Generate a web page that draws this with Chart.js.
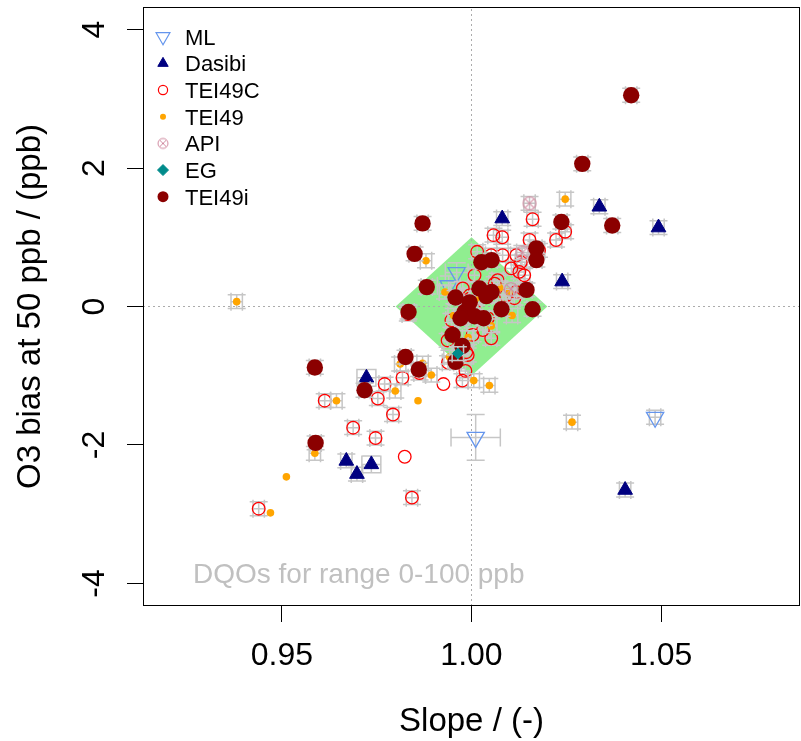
<!DOCTYPE html>
<html>
<head>
<meta charset="utf-8">
<script src="https://cdn.jsdelivr.net/npm/chart.js@4.4.1/dist/chart.umd.min.js"></script>
<style>
html,body{margin:0;padding:0;background:#ffffff;}
canvas{display:block;}
</style>
</head>
<body>
<canvas id="c" width="801" height="741" style="width:801px;height:741px"></canvas>
<script>
// ---------------- data ----------------
const seriesNames = ['ML', 'Dasibi', 'TEI49C', 'TEI49', 'API', 'EG', 'TEI49i'];
const xTickValues = [0.95, 1.00, 1.05];
const xTickLabels = ['0.95', '1.00', '1.05'];
const yTickValues = [-4, -2, 0, 2, 4];
const yTickLabels = ['-4', '-2', '0', '2', '4'];
const xTitle = 'Slope / (-)';
const yTitle = 'O3 bias at 50 ppb / (ppb)';
const dqoLabel = 'DQOs for range 0-100 ppb';
// DQO diamond (slope, bias)
const dqoSlope = [0.98, 1.00, 1.02, 1.00, 0.98];
const dqoBias  = [0.00, 1.00, 0.00, -1.00, 0.00];

// [slope, bias at 50 ppb, slope uncertainty, bias uncertainty]
const mlData = [
  [1.0011, -1.89, 0.0065, 0.33],
  [1.0484, -1.60, 0.0015, 0.10],
  [0.9961,  0.49, 0.0030, 0.14],
  [0.9940,  0.30, 0.0030, 0.14]
];
const dasibiData = [
  [1.0081,  1.27, 0.0015, 0.10],
  [1.0337,  1.44, 0.0015, 0.10],
  [1.0493,  1.14, 0.0015, 0.10],
  [1.0239,  0.36, 0.0015, 0.10],
  [0.9723, -1.03, 0.0025, 0.12],
  [0.9670, -2.23, 0.0015, 0.10],
  [0.9736, -2.28, 0.0025, 0.12],
  [0.9698, -2.42, 0.0015, 0.10],
  [1.0405, -2.65, 0.0015, 0.10]
];
const tei49cData = [
  [0.9613, -1.36, 0.0015, 0.10],
  [0.9771, -1.12, 0.0015, 0.10],
  [0.9753, -1.33, 0.0015, 0.10],
  [0.9793, -1.56, 0.0015, 0.10],
  [0.9688, -1.75, 0.0015, 0.10],
  [0.9747, -1.90, 0.0015, 0.10],
  [0.9824, -2.17, 0, 0],
  [0.9843, -2.76, 0.0015, 0.10],
  [0.9439, -2.92, 0.0015, 0.10],
  [0.9818, -1.03, 0.0015, 0.10],
  [0.9926, -1.12, 0, 0],
  [0.9976, -1.07, 0.0015, 0.10],
  [0.9984, -0.93, 0.0015, 0.10],
  [0.9938, -0.81, 0.0015, 0.10],
  [0.9863, -0.96, 0.0015, 0.10],
  [0.9990, -0.70, 0.0015, 0.10],
  [1.0003, -0.41, 0.0015, 0.10],
  [1.0052, -0.46, 0.0015, 0.10],
  [0.9986, -0.66, 0.0015, 0.10],
  [1.0161,  1.26, 0.0015, 0.10],
  [1.0223,  0.96, 0.0015, 0.10],
  [1.0247,  1.08, 0.0015, 0.10],
  [1.0058,  1.03, 0.0015, 0.10],
  [1.0081,  1.00, 0.0015, 0.10],
  [1.0015,  0.79, 0.0015, 0.10],
  [1.0052,  0.74, 0.0015, 0.10],
  [1.0082,  0.74, 0.0015, 0.10],
  [1.0118,  0.74, 0.0015, 0.10],
  [1.0130,  0.64, 0.0015, 0.10],
  [1.0178,  0.81, 0.0015, 0.10],
  [1.0105,  0.55, 0.0015, 0.10],
  [1.0126,  0.50, 0.0015, 0.10],
  [1.0139,  0.45, 0.0015, 0.10],
  [1.0069,  0.38, 0.0015, 0.10],
  [1.0008,  0.45, 0.0015, 0.10],
  [0.9977,  0.26, 0.0015, 0.10],
  [0.9995,  0.16, 0.0015, 0.10],
  [1.0061,  0.33, 0.0015, 0.10],
  [1.0091,  0.16, 0.0015, 0.10],
  [1.0113,  0.12, 0.0015, 0.10],
  [1.0117,  0.21, 0.0015, 0.10],
  [0.9955,  0.14, 0.0015, 0.10],
  [0.9999,  0.07, 0.0015, 0.10],
  [1.0008, -0.05, 0.0015, 0.10],
  [0.9947, -0.20, 0.0015, 0.10],
  [1.0043, -0.17, 0.0015, 0.10],
  [1.0030, -0.34, 0.0015, 0.10],
  [0.9937, -0.49, 0.0015, 0.10],
  [0.9832, -0.11, 0.0015, 0.10],
  [1.0153,  0.96, 0.0015, 0.10]
];
const tei49Data = [
  [0.9381,  0.07, 0.0015, 0.10],
  [1.0247,  1.55, 0.0015, 0.10],
  [1.0265, -1.67, 0.0015, 0.10],
  [0.9880,  0.66, 0.0015, 0.10],
  [0.9930,  0.21, 0.0015, 0.10],
  [1.0107, -0.13, 0.0015, 0.10],
  [1.0052, -0.28, 0.0015, 0.10],
  [0.9991, -0.45, 0.0015, 0.10],
  [1.0074,  0.27, 0.0015, 0.10],
  [0.9953, -0.13, 0.0015, 0.10],
  [1.0012,  0.12, 0.0015, 0.10],
  [1.0098,  0.21, 0.0015, 0.10],
  [0.9894, -0.99, 0.0015, 0.10],
  [1.0006, -1.07, 0.0015, 0.10],
  [1.0047, -1.14, 0.0015, 0.10],
  [0.9812, -0.83, 0.0015, 0.10],
  [0.9871, -0.82, 0.0015, 0.10],
  [0.9942, -0.73, 0.0015, 0.10],
  [0.9644, -1.36, 0.0015, 0.10],
  [0.9799, -1.22, 0.0015, 0.10],
  [0.9859, -1.36, 0, 0],
  [0.9587, -2.12, 0.0015, 0.10],
  [0.9512, -2.46, 0, 0],
  [0.9470, -2.98, 0, 0]
];
const apiData = [
  [1.0153,  1.49, 0.0015, 0.10],
  [1.0134,  0.78, 0.0015, 0.10],
  [1.0104,  0.25, 0.0015, 0.10]
];
const egData = [
  [0.9964, -0.68, 0.0015, 0.10]
];
const tei49iData = [
  [1.0421,  3.05, 0.0015, 0.10],
  [1.0292,  2.06, 0.0015, 0.10],
  [1.0371,  1.17, 0.0015, 0.10],
  [1.0237,  1.22, 0.0015, 0.10],
  [0.9871,  1.20, 0.0015, 0.10],
  [0.9850,  0.76, 0.0015, 0.10],
  [0.9882,  0.28, 0.0015, 0.10],
  [0.9834, -0.08, 0.0015, 0.10],
  [1.0171,  0.84, 0.0015, 0.10],
  [1.0171,  0.67, 0.0015, 0.10],
  [1.0145,  0.24, 0.0015, 0.10],
  [1.0161, -0.04, 0.0015, 0.10],
  [1.0079, -0.04, 0.0015, 0.10],
  [1.0026,  0.64, 0.0015, 0.10],
  [1.0053,  0.67, 0.0015, 0.10],
  [1.0053,  0.21, 0.0015, 0.10],
  [1.0021,  0.26, 0.0015, 0.10],
  [0.9958,  0.13, 0.0015, 0.10],
  [0.9982, -0.08, 0.0015, 0.10],
  [1.0008, -0.14, 0.0015, 0.10],
  [0.9950, -0.41, 0.0015, 0.10],
  [0.9976, -0.57, 0.0015, 0.10],
  [0.9958, -0.80, 0.0015, 0.10],
  [0.9826, -0.73, 0.0015, 0.10],
  [0.9861, -0.91, 0.0015, 0.10],
  [0.9587, -0.88, 0.0015, 0.10],
  [0.9718, -1.21, 0.0015, 0.10],
  [0.9589, -1.97, 0.0015, 0.10],
  [1.0039,  0.15, 0.0015, 0.10],
  [0.9995,  0.06, 0.0015, 0.10],
  [1.0032, -0.17, 0.0015, 0.10],
  [0.9971, -0.17, 0.0015, 0.10]
];

// ---------------- rendering ----------------
const FONT = "'Liberation Sans', Arial, Helvetica, sans-serif";
const X_MIN = 0.9134, X_MAX = 1.0866, Y_MIN = -4.325, Y_MAX = 4.325;

function makeApiIcon(r, color, lw) {
  const s = Math.ceil(2 * r + 2 * lw + 2);
  const c = document.createElement('canvas');
  c.width = s; c.height = s;
  const g = c.getContext('2d');
  const m = s / 2, d = r * Math.SQRT1_2;
  g.strokeStyle = color; g.lineWidth = lw;
  g.beginPath(); g.arc(m, m, r, 0, Math.PI * 2); g.stroke();
  g.beginPath();
  g.moveTo(m - d, m - d); g.lineTo(m + d, m + d);
  g.moveTo(m - d, m + d); g.lineTo(m + d, m - d);
  g.stroke();
  return c;
}
const apiIcon = makeApiIcon(6.5, '#D08AA0', 1.1);
const apiIconLegend = makeApiIcon(5, '#D08AA0', 1);

const toPts = arr => arr.map(p => ({x: p[0], y: p[1]}));
const toErr = arr => arr.map(p => [p[2], p[3]]);

const seriesStyle = [
  {data: mlData, pointStyle: 'triangle', rotation: 180, radius: 10, bg: 'rgba(0,0,0,0)', border: '#6495ED', bw: 1.3, order: 7},
  {data: dasibiData, pointStyle: 'triangle', rotation: 0, radius: 8.5, bg: '#000080', border: '#000080', bw: 1, order: 6},
  {data: tei49cData, pointStyle: 'circle', rotation: 0, radius: 6.3, bg: 'rgba(0,0,0,0)', border: '#FF0000', bw: 1.3, order: 5},
  {data: tei49Data, pointStyle: 'circle', rotation: 0, radius: 3.8, bg: '#FFA500', border: '#FFA500', bw: 0, order: 4},
  {data: apiData, pointStyle: apiIcon, rotation: 0, radius: 7, bg: 'rgba(0,0,0,0)', border: '#D08AA0', bw: 1, order: 3},
  {data: egData, pointStyle: 'rectRot', rotation: 0, radius: 5.5, bg: '#008B8B', border: '#008B8B', bw: 1, order: 0},
  {data: tei49iData, pointStyle: 'circle', rotation: 0, radius: 8.2, bg: '#8B0000', border: '#8B0000', bw: 0, order: 1}
];

const legendStyle = [
  {pointStyle: 'triangle', rotation: 180, radius: 8, bg: 'rgba(0,0,0,0)', border: '#6495ED', bw: 1.2},
  {pointStyle: 'triangle', rotation: 0, radius: 6, bg: '#000080', border: '#000080', bw: 1},
  {pointStyle: 'circle', rotation: 0, radius: 4.6, bg: 'rgba(0,0,0,0)', border: '#FF0000', bw: 1.2},
  {pointStyle: 'circle', rotation: 0, radius: 3, bg: '#FFA500', border: '#FFA500', bw: 0},
  {pointStyle: apiIconLegend, rotation: 0, radius: 5, bg: 'rgba(0,0,0,0)', border: '#D08AA0', bw: 1},
  {pointStyle: 'rectRot', rotation: 0, radius: 5.5, bg: '#008B8B', border: '#008B8B', bw: 1},
  {pointStyle: 'circle', rotation: 0, radius: 5.5, bg: '#8B0000', border: '#8B0000', bw: 0}
];

const datasets = [];
// DQO area
datasets.push({
  label: 'DQO', data: dqoSlope.map((s, i) => ({x: s, y: dqoBias[i]})),
  showLine: true, fill: 'shape', backgroundColor: '#90EE90', borderColor: '#90EE90',
  borderWidth: 0, pointRadius: 0, order: 20, tension: 0
});
// reference lines
datasets.push({
  label: 'v', data: [{x: 1, y: Y_MIN}, {x: 1, y: Y_MAX}], showLine: true,
  borderColor: '#ababab', borderWidth: 1, borderDash: [2, 3], pointRadius: 0, order: 15
});
datasets.push({
  label: 'h', data: [{x: X_MIN, y: 0}, {x: X_MAX, y: 0}], showLine: true,
  borderColor: '#ababab', borderWidth: 1, borderDash: [2, 3], pointRadius: 0, order: 15
});
seriesStyle.forEach((s, i) => {
  datasets.push({
    label: seriesNames[i], data: toPts(s.data), errors: toErr(s.data),
    pointStyle: s.pointStyle, rotation: s.rotation, pointRadius: s.radius,
    backgroundColor: s.bg, borderColor: s.border, borderWidth: s.bw, order: s.order,
    showLine: false
  });
});

const errorBarPlugin = {
  id: 'errorBars',
  beforeDatasetDraw(chart, args) {
    const ds = chart.data.datasets[args.index];
    if (!ds.errors) return;
    const xs = chart.scales.x, ys = chart.scales.y, ctx = chart.ctx, a = chart.chartArea;
    const cap = 9;
    ctx.save();
    ctx.beginPath(); ctx.rect(a.left, a.top, a.right - a.left, a.bottom - a.top); ctx.clip();
    ctx.strokeStyle = '#c6c6c6';
    ctx.lineWidth = 1.5;
    ds.data.forEach((p, i) => {
      const ex = ds.errors[i][0], ey = ds.errors[i][1];
      const px = xs.getPixelForValue(p.x), py = ys.getPixelForValue(p.y);
      ctx.beginPath();
      if (ex) {
        const x1 = xs.getPixelForValue(p.x - ex), x2 = xs.getPixelForValue(p.x + ex);
        ctx.moveTo(x1, py); ctx.lineTo(x2, py);
        ctx.moveTo(x1, py - cap); ctx.lineTo(x1, py + cap);
        ctx.moveTo(x2, py - cap); ctx.lineTo(x2, py + cap);
      }
      if (ey) {
        const y1 = ys.getPixelForValue(p.y - ey), y2 = ys.getPixelForValue(p.y + ey);
        ctx.moveTo(px, y1); ctx.lineTo(px, y2);
        ctx.moveTo(px - cap, y1); ctx.lineTo(px + cap, y1);
        ctx.moveTo(px - cap, y2); ctx.lineTo(px + cap, y2);
      }
      ctx.stroke();
    });
    ctx.restore();
  }
};

const decorPlugin = {
  id: 'decor',
  afterDraw(chart) {
    const ctx = chart.ctx, a = chart.chartArea;
    ctx.save();
    // plot box
    ctx.strokeStyle = '#000000';
    ctx.lineWidth = 1;
    ctx.strokeRect(a.left + 0.5, a.top + 0.5, a.right - a.left - 1, a.bottom - a.top - 1);
    // DQO label
    ctx.fillStyle = '#c0c0c0';
    ctx.font = '28px ' + FONT;
    ctx.textAlign = 'left';
    ctx.textBaseline = 'alphabetic';
    ctx.fillText(dqoLabel, 193, 583);
    // legend
    const lx = 163, tx = 185, y0 = 36.7, dy = 26.67;
    ctx.font = '22px ' + FONT;
    seriesNames.forEach((name, i) => {
      const s = legendStyle[i];
      const y = y0 + i * dy;
      ctx.save();
      ctx.fillStyle = s.bg; ctx.strokeStyle = s.border; ctx.lineWidth = s.bw;
      Chart.helpers.drawPoint(ctx, {pointStyle: s.pointStyle, rotation: s.rotation, radius: s.radius, borderWidth: s.bw}, lx, y);
      ctx.restore();
      ctx.fillStyle = '#000000';
      ctx.fillText(name, tx, y + 7.8);
    });
    ctx.restore();
  }
};

function zeroPadding(s) {
  s.paddingTop = 0; s.paddingBottom = 0; s.paddingLeft = 0; s.paddingRight = 0;
}

new Chart(document.getElementById('c'), {
  type: 'scatter',
  data: {datasets},
  plugins: [errorBarPlugin, decorPlugin],
  options: {
    responsive: false,
    devicePixelRatio: 1,
    animation: false,
    events: [],
    layout: {autoPadding: false, padding: {top: 7, right: 1, bottom: 0, left: 0}},
    plugins: {legend: {display: false}, tooltip: {enabled: false}},
    scales: {
      x: {
        type: 'linear', min: X_MIN, max: X_MAX,
        afterBuildTicks: s => { s.ticks = xTickValues.map(v => ({value: v})); },
        afterFit: s => { s.height = 135; zeroPadding(s); },
        border: {display: false},
        grid: {drawOnChartArea: false, drawTicks: true, tickLength: 16, color: '#000000', lineWidth: 1},
        ticks: {
          autoSkip: false, maxRotation: 0, minRotation: 0, padding: 15, color: '#000000',
          font: {family: FONT, size: 32},
          callback: v => xTickLabels[xTickValues.indexOf(v)]
        },
        title: {display: true, text: xTitle, color: '#000000', font: {family: FONT, size: 33, lineHeight: 1}, padding: {top: 0, bottom: 3}}
      },
      y: {
        type: 'linear', min: Y_MIN, max: Y_MAX,
        afterBuildTicks: s => { s.ticks = yTickValues.map(v => ({value: v})); },
        afterFit: s => { s.width = 143; zeroPadding(s); },
        border: {display: false},
        grid: {drawOnChartArea: false, drawTicks: true, tickLength: 16, color: '#000000', lineWidth: 1},
        ticks: {
          autoSkip: false, minRotation: 90, maxRotation: 90, crossAlign: 'center', padding: 18, color: '#000000',
          font: {family: FONT, size: 32},
          callback: v => yTickLabels[yTickValues.indexOf(v)]
        },
        title: {display: true, text: yTitle, color: '#000000', font: {family: FONT, size: 33, lineHeight: 1}, padding: {top: 14, bottom: 0}}
      }
    }
  }
});
</script>
</body>
</html>
